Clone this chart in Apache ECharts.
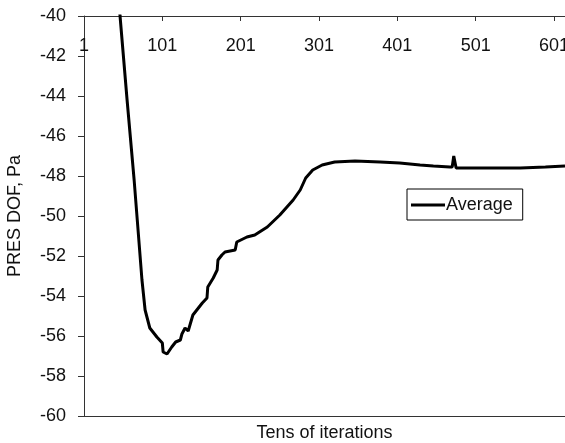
<!DOCTYPE html>
<html>
<head>
<meta charset="utf-8">
<script src="https://cdn.jsdelivr.net/npm/echarts@6/dist/echarts.min.js"></script>
<style>
  html, body { margin: 0; padding: 0; background: #fff; }
  #main { width: 565px; height: 443px; }
</style>
</head>
<body>
<div id="main"></div>
<script>
// tens of iterations (offset from 1) and average pressure values
var iters = [0, 40, 46, 55, 64, 68, 74, 78, 84, 93, 100, 101, 106, 112, 117, 123, 125, 129, 133, 135,
  139, 146, 151, 157, 158, 165, 170, 171, 176, 180, 193, 195, 208, 218, 234, 250, 267, 276, 283, 292,
  304, 320, 346, 378, 403, 429, 446, 467, 470, 472, 475, 506, 557, 589, 614];
var avgPres = [-25, -37, -40, -44.2, -48.2, -50.2, -53.2, -54.7, -55.6, -56.05, -56.35, -56.8, -56.9, -56.55, -56.3, -56.2, -55.9, -55.6, -55.75, -55.8,
  -54.95, -54.6, -54.35, -54.1, -53.55, -53.1, -52.7, -52.2, -51.95, -51.8, -51.7, -51.3, -51.05, -50.95, -50.55, -49.95, -49.2, -48.7, -48.1, -47.7,
  -47.45, -47.3, -47.25, -47.3, -47.35, -47.45, -47.5, -47.55, -47.55, -47.0, -47.6, -47.6, -47.6, -47.55, -47.5];
var xTicks = [1, 101, 201, 301, 401, 501, 601];

var font = 'Liberation Sans, Arial, sans-serif';
var pts = [];
for (var i = 0; i < iters.length; i++) {
  pts.push([iters[i], avgPres[i]]);
}

var myChart = echarts.init(document.getElementById('main'));
var option = {
  animation: false,
  textStyle: { fontFamily: font },
  grid: { left: 84, top: 16, right: 0, bottom: 27, containLabel: false, outerBoundsMode: 'none' },
  legend: {
    data: [{ name: 'Average', icon: 'rect' }],
    left: 407, top: 189,
    orient: 'vertical',
    padding: [7, 10, 6, 4],
    borderColor: '#000', borderWidth: 1,
    itemWidth: 34, itemHeight: 3, itemGap: 0,
    textStyle: { fontSize: 18, color: '#111', fontFamily: font, padding: [0, 0, 0, -4] }
  },
  xAxis: [
    {
      type: 'value',
      position: 'top',
      min: 0, max: 614, interval: 100,
      axisLine: { lineStyle: { color: '#333', width: 1 } },
      axisTick: { inside: true, length: 5, lineStyle: { color: '#333' } },
      axisLabel: {
        inside: true, margin: 21, showMaxLabel: false,
        fontSize: 18, color: '#111', fontFamily: font,
        formatter: function (v) {
          var t = v + 1;
          return xTicks.indexOf(t) >= 0 ? String(t) : '';
        }
      },
      splitLine: { show: false }
    },
    {
      type: 'value',
      position: 'bottom',
      min: 0, max: 614,
      name: 'Tens of iterations',
      nameLocation: 'middle',
      nameGap: 8,
      nameTextStyle: { fontSize: 18, color: '#111', fontFamily: font, verticalAlign: 'top' },
      axisLine: { onZero: false, lineStyle: { color: '#333', width: 1 } },
      axisTick: { show: false },
      axisLabel: { show: false },
      splitLine: { show: false }
    }
  ],
  yAxis: {
    type: 'value',
    min: -60, max: -40, interval: 2,
    name: 'PRES DOF, Pa',
    nameLocation: 'middle',
    nameGap: 60,
    nameRotate: 90,
    nameTextStyle: { fontSize: 18, color: '#111', fontFamily: font },
    axisLine: { show: true, lineStyle: { color: '#333', width: 1 } },
    axisTick: { show: true, length: 6, lineStyle: { color: '#333' } },
    axisLabel: { margin: 18, fontSize: 18, color: '#111', fontFamily: font },
    splitLine: { show: false }
  },
  series: [
    {
      name: 'Average',
      type: 'line',
      xAxisIndex: 0,
      data: pts,
      symbol: 'none',
      clip: true,
      lineStyle: { color: '#000', width: 3 },
      itemStyle: { color: '#000' }
    }
  ]
};
myChart.setOption(option);
window.onresize = myChart.resize;
</script>
</body>
</html>
